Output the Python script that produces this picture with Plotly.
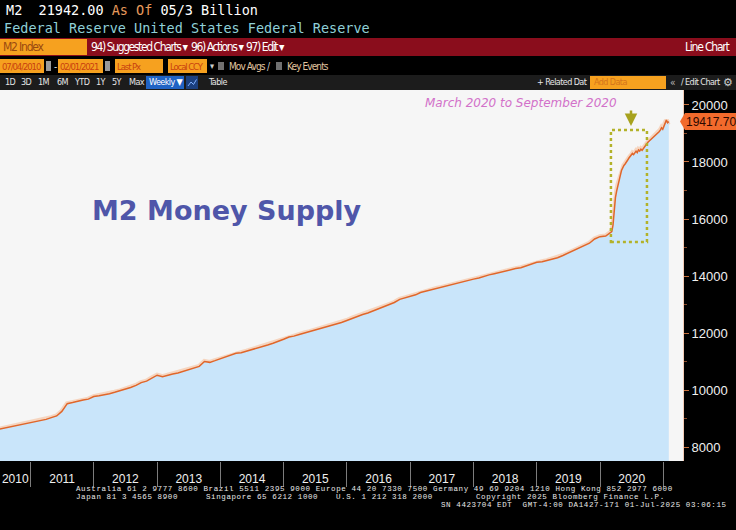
import plotly.graph_objects as go
import pandas as pd

# ---------------- data ----------------
monthly_start = "2010-07-01"
monthly_values = [
    8620, 8660, 8700, 8745, 8775, 8800,                                        # 2010 Jul-Dec
    8840, 8880, 8930, 8970, 9030, 9090, 9250, 9520, 9560, 9610, 9650, 9680,     # 2011
    9770, 9800, 9830, 9870, 9920, 9970, 10030, 10090, 10160, 10260, 10310, 10420,  # 2012
    10520, 10470, 10520, 10560, 10600, 10660, 10710, 10760, 10830, 11000, 10970, 11030,  # 2013
    11090, 11160, 11210, 11290, 11310, 11360, 11420, 11480, 11520, 11580, 11640, 11700,  # 2014
    11780, 11860, 11890, 11950, 12000, 12050, 12100, 12160, 12210, 12260, 12320, 12370,  # 2015
    12440, 12520, 12580, 12650, 12700, 12780, 12860, 12930, 13000, 13070, 13180, 13230,  # 2016
    13290, 13340, 13420, 13470, 13500, 13560, 13600, 13650, 13700, 13740, 13790, 13850,  # 2017
    13890, 13930, 13990, 14040, 14080, 14130, 14170, 14220, 14260, 14290, 14350, 14410,  # 2018
    14480, 14500, 14540, 14590, 14640, 14720, 14800, 14890, 14980, 15070, 15150, 15300,  # 2019
    15380,                                                                       # 2020 Jan
]
weekly_start = "2020-02-03"
weekly_values = [
    15400, 15430, 15450, 15480,
    15500, 15560, 15780, 16300, 16750,
    16980, 17200, 17350, 17520,
    17700, 17830, 17880, 17930,
    18020, 18060, 18130, 18190, 18230,
    18300, 18260, 18320, 18380,
    18330, 18420, 18380, 18450, 18410,
    18480, 18530, 18600, 18650,
    18700, 18740, 18780, 18800,
    18850, 18880, 18930, 18990, 19020,
    19060, 19120, 19200, 19150,
    19260, 19360, 19470, 19380,
    19417.70,
]
year_labels = ["2010", "2011", "2012", "2013", "2014", "2015",
               "2016", "2017", "2018", "2019", "2020"]
y_tick_values = [8000, 10000, 12000, 14000, 16000, 18000, 20000]
last_value_text = "19417.70"
header_value = "21942.00"
period_buttons = ["1D", "3D", "1M", "6M", "YTD", "1Y", "5Y", "Max"]

dates = list(pd.date_range(monthly_start, periods=len(monthly_values), freq="MS")) + \
        list(pd.date_range(weekly_start, periods=len(weekly_values), freq="7D"))
values = monthly_values + weekly_values

# ---------------- geometry ----------------
W, H = 736, 530
L, R, T, B = 0, 53, 90, 69
PW, PH = W - L - R, H - T - B
X_RANGE = ["2010-07-09", "2021-04-24"]
Y_RANGE = [7509, 20526]


def px(x):
    return (x - L) / PW


def py(y):
    return (H - B - y) / PH


MONO = "DejaVu Sans Mono"
NARROW = "DejaVu Sans Condensed, Liberation Sans Narrow, Liberation Sans"
SANS = "Liberation Sans, Arial"

shapes = []
annotations = []


def rect(x0, y0, x1, y1, color):
    shapes.append(dict(type="rect", xref="paper", yref="paper",
                       x0=px(x0), x1=px(x1), y0=py(y1), y1=py(y0),
                       fillcolor=color, line=dict(width=0), layer="above"))


def text(x, y, s, color="#ffffff", size=11, family=NARROW, anchor="left", ls=None):
    if ls is not None:
        s = "<span style='letter-spacing:%spx'>%s</span>" % (ls, s)
    annotations.append(dict(xref="paper", yref="paper", x=px(x), y=py(y),
                            text=s, showarrow=False, xanchor=anchor, yanchor="middle",
                            font=dict(color=color, size=size, family=family),
                            borderpad=0))


# ---- header rows ----
text(5, 10, "M2&nbsp;&nbsp;" + header_value +
     " <span style='color:#e79a5c'>As&nbsp;Of</span> 05/3 Billion",
     "#ffffff", 13.5, MONO)
text(3, 28, "Federal Reserve United States Federal Reserve", "#8fd0d8", 13.5, MONO)

rect(0, 38, 736, 56, "#8a0d1c")
rect(0, 39, 87, 55, "#f6a11f")
text(2, 47, "M2 Index", "#9a4a10", 12, ls=-1.2)
text(90, 47, "94) Suggested Charts ▾", "#ffffff", 12, ls=-1.4)
text(190, 47, "96) Actions ▾", "#ffffff", 12, ls=-1.4)
text(245, 47, "97) Edit ▾", "#ffffff", 12, ls=-1.4)
text(731, 47, "Line Chart", "#ffffff", 12, anchor="right", ls=-1.2)

for x0, x1, s in [(0, 44, "07/04/2010"), (58, 103, "02/01/2021"),
                  (115, 163, "Last Px"), (168, 207, "Local CCY")]:
    rect(x0, 59, x1, 73, "#f6a11f")
    text(x0 + 1, 66, s, "#c9420f", 9.5, ls=-1.1)
rect(46, 61, 51, 71, "#9a9a9a")
rect(105, 61, 110, 71, "#9a9a9a")
text(53, 66, "-", "#dddddd", 10)
text(209, 66, "▾", "#cccccc", 9)
rect(218, 62, 224, 70, "#707070")
text(228, 66, "Mov Avgs", "#e2c6a0", 10, ls=-0.9)
text(266, 66, "/", "#cccccc", 10)
rect(276, 62, 282, 70, "#707070")
text(286, 66, "Key Events", "#e2c6a0", 10, ls=-0.9)

rect(0, 75, 736, 90, "#1c1c1c")
for s, x in zip(period_buttons, [4, 20, 37, 56, 73, 95, 111, 128]):
    text(x, 82.5, s, "#e6e6e6", 9, ls=-0.6)
rect(146, 76, 184, 89, "#2063c4")
text(148, 82.5, "Weekly ▼", "#ffffff", 9, ls=-0.6)
rect(186, 76, 198, 89, "#1b3f7e")
shapes.append(dict(type="path", xref="paper", yref="paper",
                   path="M %f,%f L %f,%f L %f,%f L %f,%f" % (
                       px(188), py(86), px(191), py(82), px(193.5), py(84.5), px(196.5), py(79.5)),
                   line=dict(color="#7fb0ff", width=1), layer="above"))
text(207, 82.5, "Table", "#e6e6e6", 9, ls=-0.6)
text(588, 82.5, "+ Related Dat", "#e6e6e6", 9, anchor="right", ls=-0.6)
rect(590, 76, 666, 89, "#f6a11f")
text(593, 82.5, "Add Data", "#d4741c", 9, ls=-0.6)
text(669, 82.5, "«", "#bbbbbb", 10)
text(680, 82.5, "/ Edit Chart", "#e6e6e6", 9, ls=-0.6)
text(734, 82.5, "⚙", "#cfcfcf", 11, SANS, anchor="right")

# ---- footer ----
FOOT = "Liberation Mono"
FS = 7.5
FLS = 0.6
text(75, 489, "Australia 61 2 9777 8600 Brazil 5511 2395 9000 Europe 44 20 7330 7500 "
     "Germany 49 69 9204 1210 Hong Kong 852 2977 6000", "#e8e8e8", FS, FOOT, ls=FLS)
text(75, 497, "Japan 81 3 4565 8900", "#e8e8e8", FS, FOOT, ls=FLS)
text(205, 497, "Singapore 65 6212 1000", "#e8e8e8", FS, FOOT, ls=FLS)
text(335, 497, "U.S. 1 212 318 2000", "#e8e8e8", FS, FOOT, ls=FLS)
text(475, 497, "Copyright 2025 Bloomberg Finance L.P.", "#e8e8e8", FS, FOOT, ls=FLS)
text(728, 505, "SN 4423704 EDT&nbsp;&nbsp;GMT-4:00 DA1427-171 01-Jul-2025 03:06:15",
     "#e8e8e8", FS, FOOT, anchor="right", ls=FLS)

# ---- in-plot annotations ----
annotations.append(dict(xref="paper", yref="paper", x=px(226.5), y=py(210),
                        text="<b>M2 Money Supply</b>", showarrow=False,
                        xanchor="center", yanchor="middle",
                        font=dict(color="#4f56a9", size=27, family="DejaVu Sans")))
annotations.append(dict(xref="paper", yref="paper", x=px(521), y=py(103),
                        text="<i>March 2020 to September 2020</i>", showarrow=False,
                        xanchor="center", yanchor="middle",
                        font=dict(color="#d271c9", size=12, family="DejaVu Sans")))
annotations.append(dict(xref="paper", yref="paper", x=px(631), y=py(126),
                        ax=0, ay=-17, axref="pixel", ayref="pixel", text="",
                        showarrow=True, arrowhead=2, arrowsize=1, arrowwidth=2.5,
                        arrowcolor="#a7a21e"))
shapes.append(dict(type="rect", xref="x", yref="y",
                   x0="2020-03-04", x1="2020-09-28", y0=15190, y1=19120,
                   line=dict(color="#b3b22a", width=2.5, dash="dot"), layer="above"))

# ---- last value tag ----
last_val = float(last_value_text)
yv = (last_val - Y_RANGE[0]) / (Y_RANGE[1] - Y_RANGE[0])
hh = 8.5 / PH
shapes.append(dict(type="path", xref="paper", yref="paper",
                   path="M %f,%f L %f,%f L %f,%f L %f,%f L %f,%f Z" % (
                       px(680), yv, px(685), yv + hh, px(736), yv + hh,
                       px(736), yv - hh, px(685), yv - hh),
                   fillcolor="#f26a2c", line=dict(width=0), layer="above"))
annotations.append(dict(xref="paper", yref="paper", x=px(710.5), y=yv,
                        text=last_value_text, showarrow=False,
                        xanchor="center", yanchor="middle",
                        font=dict(color="#2a0800", size=12, family=SANS)))

# ---- x label positions (mid of visible part of each year) ----
rng0 = pd.Timestamp(X_RANGE[0])
label_pos = []
for yl in year_labels:
    s = max(pd.Timestamp(yl + "-01-01"), rng0)
    e = pd.Timestamp(str(int(yl) + 1) + "-01-01")
    label_pos.append(s + (e - s) / 2)
year_starts = [pd.Timestamp(str(int(yl) + 1) + "-01-01") for yl in year_labels]

fig = go.Figure()
fig.add_trace(go.Scatter(x=dates, y=values, mode="lines",
                         line=dict(color="rgba(246,186,146,0.55)", width=5),
                         hoverinfo="skip"))
fig.add_trace(go.Scatter(x=dates, y=values, mode="lines", fill="tozeroy",
                         fillcolor="#c9e5fa",
                         line=dict(color="#e0662a", width=1.5)))

fig.update_layout(
    width=W, height=H, margin=dict(l=L, r=R, t=T, b=B, pad=0),
    paper_bgcolor="#000000", plot_bgcolor="#f6f6f6",
    showlegend=False, shapes=shapes, annotations=annotations,
    xaxis=dict(type="date", range=X_RANGE, tickmode="array",
               tickvals=label_pos, ticktext=year_labels, ticks="",
               showgrid=False, zeroline=False, showline=False,
               tickfont=dict(color="#f0f0f0", size=12, family=SANS),
               ticklabelstandoff=9,
               minor=dict(tickmode="array", tickvals=year_starts, ticks="outside",
                          ticklen=25, tickcolor="#7c7c7c", tickwidth=1, showgrid=False)),
    yaxis=dict(range=Y_RANGE, side="right", tickmode="array",
               tickvals=y_tick_values, ticktext=[str(v) for v in y_tick_values],
               ticks="outside", ticklen=5, tickcolor="#c8703c", tickwidth=1,
               showgrid=False, zeroline=False, showline=True,
               linecolor="#f2cbb6", linewidth=1,
               tickfont=dict(color="#f0f0f0", size=13, family=SANS),
               minor=dict(dtick=1000, tick0=0, ticks="outside", ticklen=3,
                          tickcolor="#8a4a2a", showgrid=False)),
)

fig.write_html("out.html", config={"displayModeBar": False},
               post_script="document.body.style.margin='0px';"
                           "document.body.style.overflow='hidden';")
